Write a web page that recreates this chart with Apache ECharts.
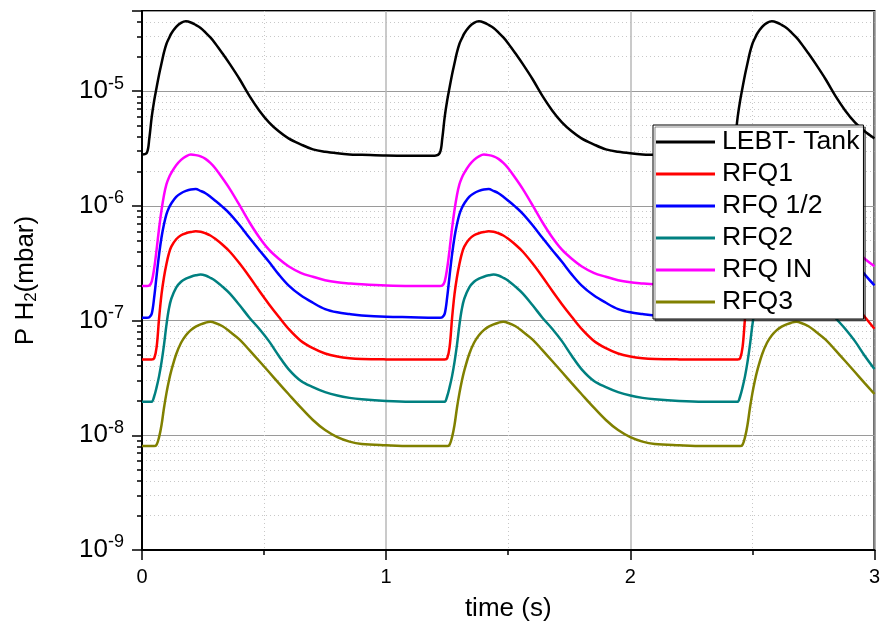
<!DOCTYPE html>
<html><head><meta charset="utf-8">
<script src="https://cdn.jsdelivr.net/npm/echarts@6/dist/echarts.min.js"></script>
<style>html,body{margin:0;padding:0;background:#fff}#c{width:883px;height:632px}</style>
</head><body><div id="c"></div>
<script>
const time = [0,0.02,0.03,0.04,0.05,0.06,0.07,0.08,0.09,0.10,0.11,0.12,0.14,0.16,0.18,0.20,0.22,0.24,0.26,0.28,0.30,0.33,0.36,0.40,0.44,0.48,0.52,0.56,0.60,0.65,0.70,0.75,0.80,0.85,0.90,1.00,1.10,
1.20,1.22,1.23,1.24,1.25,1.26,1.27,1.28,1.29,1.30,1.31,1.32,1.34,1.36,1.38,1.40,1.42,1.44,1.46,1.48,1.50,1.53,1.56,1.60,1.64,1.68,1.72,1.76,1.80,1.85,1.90,1.95,2.00,2.05,2.10,2.20,2.30,
2.40,2.42,2.43,2.44,2.45,2.46,2.47,2.48,2.49,2.50,2.51,2.52,2.54,2.56,2.58,2.60,2.62,2.64,2.66,2.68,2.70,2.73,2.76,2.80,2.84,2.88,2.92,2.96,3.00];

const lebtTank = [2.8e-6,2.9e-6,3.88e-6,6.0e-6,8.3e-6,1.08e-5,1.40e-5,1.75e-5,2.18e-5,2.58e-5,2.88e-5,3.18e-5,3.63e-5,3.94e-5,4.06e-5,3.97e-5,3.78e-5,3.56e-5,3.25e-5,2.94e-5,2.61e-5,2.13e-5,1.72e-5,1.27e-5,9.1e-6,6.8e-6,5.35e-6,4.47e-6,3.88e-6,3.44e-6,3.11e-6,2.96e-6,2.87e-6,2.81e-6,2.79e-6,2.75e-6,2.74e-6,
2.74e-6,2.9e-6,3.88e-6,6.0e-6,8.3e-6,1.08e-5,1.40e-5,1.75e-5,2.18e-5,2.58e-5,2.88e-5,3.18e-5,3.63e-5,3.94e-5,4.06e-5,3.97e-5,3.78e-5,3.56e-5,3.25e-5,2.94e-5,2.61e-5,2.13e-5,1.72e-5,1.27e-5,9.1e-6,6.8e-6,5.35e-6,4.47e-6,3.88e-6,3.44e-6,3.11e-6,2.96e-6,2.87e-6,2.81e-6,2.79e-6,2.75e-6,2.74e-6,
2.74e-6,2.9e-6,3.88e-6,6.0e-6,8.3e-6,1.08e-5,1.40e-5,1.75e-5,2.18e-5,2.58e-5,2.88e-5,3.18e-5,3.63e-5,3.94e-5,4.06e-5,3.97e-5,3.78e-5,3.56e-5,3.25e-5,2.94e-5,2.61e-5,2.13e-5,1.72e-5,1.27e-5,9.1e-6,6.8e-6,5.35e-6,4.47e-6,3.88e-6];

const rfq1 = [4.58e-8,4.58e-8,4.58e-8,4.58e-8,4.70e-8,5.9e-8,1.05e-7,1.70e-7,2.39e-7,3.10e-7,3.83e-7,4.41e-7,5.12e-7,5.55e-7,5.77e-7,5.91e-7,6.0e-7,5.96e-7,5.77e-7,5.52e-7,5.16e-7,4.58e-7,3.98e-7,3.14e-7,2.41e-7,1.82e-7,1.39e-7,1.08e-7,8.49e-8,6.68e-8,5.75e-8,5.16e-8,4.86e-8,4.70e-8,4.63e-8,4.59e-8,4.58e-8,
4.58e-8,4.58e-8,4.58e-8,4.58e-8,4.70e-8,5.9e-8,1.05e-7,1.70e-7,2.39e-7,3.10e-7,3.83e-7,4.41e-7,5.12e-7,5.55e-7,5.77e-7,5.91e-7,6.0e-7,5.96e-7,5.77e-7,5.52e-7,5.16e-7,4.58e-7,3.98e-7,3.14e-7,2.41e-7,1.82e-7,1.39e-7,1.08e-7,8.49e-8,6.68e-8,5.75e-8,5.16e-8,4.86e-8,4.70e-8,4.63e-8,4.59e-8,4.58e-8,
4.58e-8,4.58e-8,4.58e-8,4.58e-8,4.70e-8,5.9e-8,1.05e-7,1.70e-7,2.39e-7,3.10e-7,3.83e-7,4.41e-7,5.12e-7,5.55e-7,5.77e-7,5.91e-7,6.0e-7,5.96e-7,5.77e-7,5.52e-7,5.16e-7,4.58e-7,3.98e-7,3.14e-7,2.41e-7,1.82e-7,1.39e-7,1.08e-7,8.49e-8];

const rfqHalf = [1.06e-7,1.06e-7,1.07e-7,1.15e-7,1.60e-7,2.48e-7,3.78e-7,5.33e-7,6.92e-7,8.45e-7,9.6e-7,1.05e-6,1.20e-6,1.29e-6,1.35e-6,1.39e-6,1.40e-6,1.35e-6,1.29e-6,1.20e-6,1.11e-6,9.8e-7,8.53e-7,6.78e-7,5.27e-7,4.13e-7,3.26e-7,2.53e-7,2.03e-7,1.66e-7,1.43e-7,1.26e-7,1.18e-7,1.14e-7,1.11e-7,1.08e-7,1.07e-7,
1.06e-7,1.06e-7,1.07e-7,1.15e-7,1.60e-7,2.48e-7,3.78e-7,5.33e-7,6.92e-7,8.45e-7,9.6e-7,1.05e-6,1.20e-6,1.29e-6,1.35e-6,1.39e-6,1.40e-6,1.35e-6,1.29e-6,1.20e-6,1.11e-6,9.8e-7,8.53e-7,6.78e-7,5.27e-7,4.13e-7,3.26e-7,2.53e-7,2.03e-7,1.66e-7,1.43e-7,1.26e-7,1.18e-7,1.14e-7,1.11e-7,1.08e-7,1.07e-7,
1.06e-7,1.06e-7,1.07e-7,1.15e-7,1.60e-7,2.48e-7,3.78e-7,5.33e-7,6.92e-7,8.45e-7,9.6e-7,1.05e-6,1.20e-6,1.29e-6,1.35e-6,1.39e-6,1.40e-6,1.35e-6,1.29e-6,1.20e-6,1.11e-6,9.8e-7,8.53e-7,6.78e-7,5.27e-7,4.13e-7,3.26e-7,2.53e-7,2.03e-7];

const rfq2 = [1.96e-8,1.96e-8,1.96e-8,1.96e-8,2.19e-8,2.63e-8,3.28e-8,4.34e-8,6.11e-8,9.12e-8,1.26e-7,1.55e-7,1.94e-7,2.18e-7,2.32e-7,2.41e-7,2.48e-7,2.52e-7,2.47e-7,2.36e-7,2.23e-7,1.97e-7,1.72e-7,1.36e-7,1.06e-7,8.49e-8,6.62e-8,4.94e-8,3.78e-8,2.99e-8,2.63e-8,2.38e-8,2.22e-8,2.12e-8,2.06e-8,1.99e-8,1.96e-8,
1.96e-8,1.96e-8,1.96e-8,1.96e-8,2.19e-8,2.63e-8,3.28e-8,4.34e-8,6.11e-8,9.12e-8,1.26e-7,1.55e-7,1.94e-7,2.18e-7,2.32e-7,2.41e-7,2.48e-7,2.52e-7,2.47e-7,2.36e-7,2.23e-7,1.97e-7,1.72e-7,1.36e-7,1.06e-7,8.49e-8,6.62e-8,4.94e-8,3.78e-8,2.99e-8,2.63e-8,2.38e-8,2.22e-8,2.12e-8,2.06e-8,1.99e-8,1.96e-8,
1.96e-8,1.96e-8,1.96e-8,1.96e-8,2.19e-8,2.63e-8,3.28e-8,4.34e-8,6.11e-8,9.12e-8,1.26e-7,1.55e-7,1.94e-7,2.18e-7,2.32e-7,2.41e-7,2.48e-7,2.52e-7,2.47e-7,2.36e-7,2.23e-7,1.97e-7,1.72e-7,1.36e-7,1.06e-7,8.49e-8,6.62e-8,4.94e-8,3.78e-8];

const rfqIn = [2.0e-7,2.0e-7,2.02e-7,2.2e-7,2.86e-7,4.19e-7,6.38e-7,9.2e-7,1.24e-6,1.54e-6,1.76e-6,1.94e-6,2.26e-6,2.52e-6,2.70e-6,2.80e-6,2.77e-6,2.70e-6,2.57e-6,2.37e-6,2.13e-6,1.74e-6,1.40e-6,1.01e-6,7.2e-7,5.33e-7,4.15e-7,3.46e-7,2.98e-7,2.61e-7,2.41e-7,2.25e-7,2.16e-7,2.11e-7,2.07e-7,2.02e-7,2.0e-7,
2.0e-7,2.0e-7,2.02e-7,2.2e-7,2.86e-7,4.19e-7,6.38e-7,9.2e-7,1.24e-6,1.54e-6,1.76e-6,1.94e-6,2.26e-6,2.52e-6,2.70e-6,2.80e-6,2.77e-6,2.70e-6,2.57e-6,2.37e-6,2.13e-6,1.74e-6,1.40e-6,1.01e-6,7.2e-7,5.33e-7,4.15e-7,3.46e-7,2.98e-7,2.61e-7,2.41e-7,2.25e-7,2.16e-7,2.11e-7,2.07e-7,2.02e-7,2.0e-7,
2.0e-7,2.0e-7,2.02e-7,2.2e-7,2.86e-7,4.19e-7,6.38e-7,9.2e-7,1.24e-6,1.54e-6,1.76e-6,1.94e-6,2.26e-6,2.52e-6,2.70e-6,2.80e-6,2.77e-6,2.70e-6,2.57e-6,2.37e-6,2.13e-6,1.74e-6,1.40e-6,1.01e-6,7.2e-7,5.33e-7,4.15e-7,3.46e-7,2.98e-7];

const rfq3 = [8.05e-9,8.05e-9,8.05e-9,8.05e-9,8.05e-9,8.3e-9,9.64e-9,1.23e-8,1.73e-8,2.32e-8,2.97e-8,3.66e-8,5.09e-8,6.41e-8,7.46e-8,8.26e-8,8.85e-8,9.27e-8,9.59e-8,9.75e-8,9.53e-8,8.92e-8,8.0e-8,6.83e-8,5.52e-8,4.44e-8,3.56e-8,2.85e-8,2.29e-8,1.75e-8,1.36e-8,1.11e-8,9.64e-9,8.81e-9,8.4e-9,8.18e-9,8.05e-9,
8.05e-9,8.05e-9,8.05e-9,8.05e-9,8.05e-9,8.3e-9,9.64e-9,1.23e-8,1.73e-8,2.32e-8,2.97e-8,3.66e-8,5.09e-8,6.41e-8,7.46e-8,8.26e-8,8.85e-8,9.27e-8,9.59e-8,9.75e-8,9.53e-8,8.92e-8,8.0e-8,6.83e-8,5.52e-8,4.44e-8,3.56e-8,2.85e-8,2.29e-8,1.75e-8,1.36e-8,1.11e-8,9.64e-9,8.81e-9,8.4e-9,8.18e-9,8.05e-9,
8.05e-9,8.05e-9,8.05e-9,8.05e-9,8.05e-9,8.3e-9,9.64e-9,1.23e-8,1.73e-8,2.32e-8,2.97e-8,3.66e-8,5.09e-8,6.41e-8,7.46e-8,8.26e-8,8.85e-8,9.27e-8,9.59e-8,9.75e-8,9.53e-8,8.92e-8,8.0e-8,6.83e-8,5.52e-8,4.44e-8,3.56e-8,2.85e-8,2.29e-8];

const seriesNames = ['LEBT- Tank','RFQ1','RFQ 1/2','RFQ2','RFQ IN','RFQ3'];
const seriesColors = ['#000000','#ff0000','#0000ff','#008080','#ff00ff','#808000'];
const seriesValues = [lebtTank, rfq1, rfqHalf, rfq2, rfqIn, rfq3];

const yMinorTicks = [2e-9,3e-9,4e-9,5e-9,6e-9,7e-9,8e-9,9e-9,
2e-8,3e-8,4e-8,5e-8,6e-8,7e-8,8e-8,9e-8,
2e-7,3e-7,4e-7,5e-7,6e-7,7e-7,8e-7,9e-7,
2e-6,3e-6,4e-6,5e-6,6e-6,7e-6,8e-6,9e-6,
2e-5,3e-5,4e-5];

const FONT = '"Liberation Sans", Arial, sans-serif';

function yLabel(v) {
  const lg = Math.log10(v);
  const e = Math.round(lg);
  if (Math.abs(lg - e) > 1e-6) return '';
  return '{b|10}{s|' + e + '}';
}

const chart = echarts.init(document.getElementById('c'), null, {renderer: 'canvas'});
chart.setOption({
  animation: false,
  backgroundColor: '#ffffff',
  grid: {left: 142, right: 7, top: 11, bottom: 82, show: true, borderColor: '#000', borderWidth: 2, backgroundColor: 'transparent'},
  legend: {
    orient: 'vertical', left: 653, top: 125, padding: [1, 4, 1, 3], itemGap: 0,
    itemWidth: 59, itemHeight: 3, icon: 'rect',
    backgroundColor: '#fff', borderColor: '#000', borderWidth: 1,
    shadowColor: 'rgba(0,0,0,0.45)', shadowOffsetX: 2, shadowOffsetY: 2, shadowBlur: 0,
    textStyle: {fontSize: 26.6, fontFamily: FONT, color: '#000', lineHeight: 32, padding: [0, 0, 0, 2]},
    data: seriesNames
  },
  xAxis: {
    type: 'value', min: 0, max: 3, interval: 1,
    axisLine: {show: true, onZero: false, lineStyle: {color: '#000', width: 2}},
    axisTick: {show: true, inside: false, length: 10, lineStyle: {color: '#000', width: 1.5}},
    minorTick: {show: true, splitNumber: 2, length: 5, lineStyle: {color: '#000', width: 1.5}},
    axisLabel: {color: '#000', fontSize: 20, margin: 17, fontFamily: FONT},
    splitLine: {show: true, lineStyle: {color: '#b8b8b8', width: 1.5}},
    minorSplitLine: {show: true, lineStyle: {color: '#c8c8c8', width: 1, type: [1, 3]}},
    name: 'time (s)', nameLocation: 'middle', nameGap: 46,
    nameTextStyle: {fontSize: 26, color: '#000', fontFamily: FONT}
  },
  yAxis: [{
    type: 'log', logBase: 10, min: 1e-9, max: 5e-5, position: 'left',
    axisLine: {show: true, lineStyle: {color: '#000', width: 2}},
    axisTick: {show: true, inside: false, length: 10, lineStyle: {color: '#000', width: 1.5}},
    axisLabel: {margin: 18, formatter: yLabel,
      rich: {
        b: {fontSize: 26, fontFamily: FONT, color: '#000'},
        s: {fontSize: 18, fontFamily: FONT, color: '#000', padding: [0, 0, 15, 0]}
      }},
    splitLine: {show: true, lineStyle: {color: '#9a9a9a', width: 1}},
    name: 'P H{sub|2}(mbar)', nameLocation: 'middle', nameGap: 102,
    nameTextStyle: {fontSize: 26, color: '#000', fontFamily: FONT,
      rich: {sub: {fontSize: 17, color: '#000', fontFamily: FONT, padding: [12, 0, 0, 0]}}}
  }, {
    type: 'log', logBase: 10, min: 1e-9, max: 5e-5, position: 'left',
    axisLine: {show: false},
    axisTick: {show: true, inside: false, length: 5, customValues: yMinorTicks, lineStyle: {color: '#000', width: 1.5}},
    axisLabel: {show: false},
    splitLine: {show: true, lineStyle: {color: '#c8c8c8', width: 1, type: [1, 3]}}
  }],
  series: seriesValues.map((vals, i) => ({
    name: seriesNames[i], type: 'line', yAxisIndex: 0,
    data: time.map((t, k) => [t, vals[k]]),
    showSymbol: false, smooth: 0.35,
    lineStyle: {width: 2.5, color: seriesColors[i]},
    itemStyle: {color: seriesColors[i]}
  }))
});
</script>
</body></html>
